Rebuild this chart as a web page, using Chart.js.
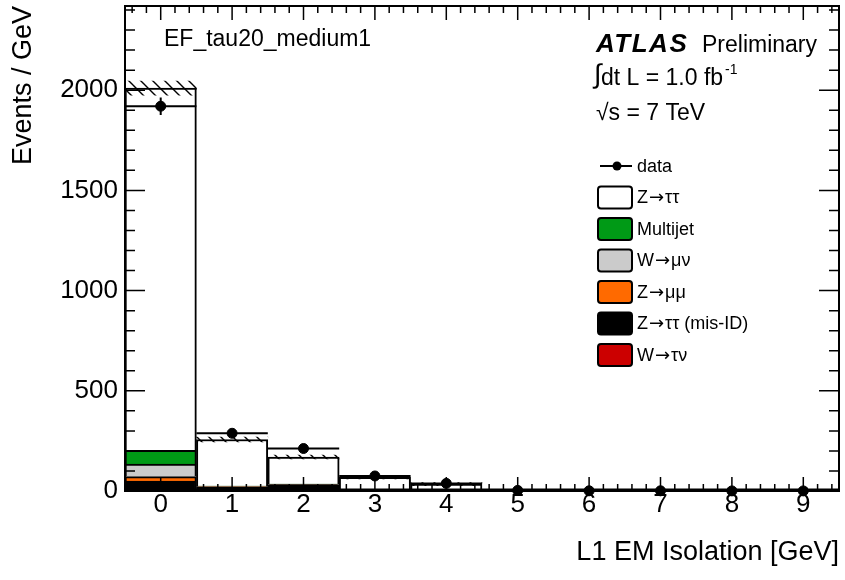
<!DOCTYPE html>
<html>
<head>
<meta charset="utf-8">
<script src="https://cdn.jsdelivr.net/npm/chart.js@4.4.0/dist/chart.umd.min.js"></script>
<style>
  html, body { margin: 0; padding: 0; background: #fff; }
</style>
</head>
<body>
<canvas id="chart" width="845" height="580"></canvas>
<script>
// bin centres (L1 EM isolation, GeV) and axis tick labels
const bins = [0, 1, 2, 3, 4, 5, 6, 7, 8, 9];
const xTicks = [0, 1, 2, 3, 4, 5, 6, 7, 8, 9];
const yTicks = [0, 500, 1000, 1500, 2000];

// data (events / GeV) and its statistical error
const dataCounts = [1920, 288, 212, 75, 38, 3, 1, 1, 0.5, 0.5];
const dataErr = [44, 17, 15, 9, 6, 2, 1, 1, 1, 1];

// stacked MC components, bottom to top
const wTauNu = [10, 3, 0, 0, 0, 0, 0, 0, 0, 0];
const zTauTauMisId = [40, 17, 32, 4, 2, 0.5, 0, 0, 0, 0];
const zMuMu = [22, 1, 0.5, 0, 0, 0, 0, 0, 0, 0];
const wMuNu = [62, 2, 1, 0.5, 0, 0, 0, 0, 0, 0];
const multijet = [69, 2, 1, 0.5, 0.5, 0, 0, 0, 0, 0];
const zTauTau = [1807, 232, 135, 63, 32, 2, 1, 0.5, 0.3, 0.3];
// MC uncertainty (half width of hatched band)
const mcErr = [35, 12, 10, 8, 8, 3, 2, 2, 2, 2];

const FONT = '"Liberation Sans", Arial, Helvetica, sans-serif';
const canvas = document.getElementById('chart');

function makeHatch() {
    const c = document.createElement('canvas');
    c.width = 12;
    c.height = 12;
    const g = c.getContext('2d');
    g.strokeStyle = '#000';
    g.lineWidth = 1.4;
    g.beginPath();
    g.moveTo(-1, -1); g.lineTo(13, 13);
    g.moveTo(-1, 11); g.lineTo(1, 13);
    g.moveTo(11, -1); g.lineTo(13, 1);
    g.stroke();
    return canvas.getContext('2d').createPattern(c, 'repeat');
}

function xy(vals) {
    return bins.map((b, i) => ({ x: b, y: vals[i] }));
}

const components = [
    ['W\u2192\u03c4\u03bd', wTauNu, '#cc0000'],
    ['Z\u2192\u03c4\u03c4 (mis-ID)', zTauTauMisId, '#000000'],
    ['Z\u2192\u03bc\u03bc', zMuMu, '#ff6a00'],
    ['W\u2192\u03bc\u03bd', wMuNu, '#cbcbcb'],
    ['Multijet', multijet, '#009a16'],
    ['Z\u2192\u03c4\u03c4', zTauTau, '#ffffff']
];

const mcTotal = bins.map((b, i) => components.reduce((s, c) => s + c[1][i], 0));

const barSets = components.map(([label, vals, color]) => ({
    type: 'bar',
    label: label,
    data: xy(vals),
    backgroundColor: color,
    borderColor: '#000',
    borderWidth: 2,
    xAxisID: 'x',
    yAxisID: 'y',
    grouped: false,
    categoryPercentage: 1,
    barPercentage: 1,
    order: 2
}));

const bandSet = {
    type: 'bar',
    label: 'MC uncertainty',
    data: bins.map((b, i) => ({ x: b, y: [mcTotal[i] - mcErr[i], mcTotal[i] + mcErr[i]] })),
    backgroundColor: makeHatch(),
    borderWidth: 0,
    xAxisID: 'x2',
    yAxisID: 'y',
    grouped: false,
    categoryPercentage: 1,
    barPercentage: 1,
    order: 1
};

const dataSet = {
    type: 'scatter',
    label: 'data',
    data: xy(dataCounts),
    pointRadius: 5,
    pointBackgroundColor: '#000',
    pointBorderColor: '#000',
    xAxisID: 'x',
    yAxisID: 'y',
    clip: false,
    order: 0
};

// legend label: the arrow comes from DejaVu Sans, the rest from Liberation Sans
function drawLabel(ctx, text, x, y) {
    const parts = text.split('\u2192');
    parts.forEach((part, i) => {
        ctx.font = '18px ' + FONT;
        ctx.fillText(part, x, y);
        x += ctx.measureText(part).width;
        if (i < parts.length - 1) {
            ctx.font = '18px "DejaVu Sans", sans-serif';
            ctx.fillText('\u2192', x + 1, y);
            x += ctx.measureText('\u2192').width + 2;
        }
    });
}

// error bars, frame, ticks, labels
const decorPlugin = {
    id: 'decor',
    afterDatasetsDraw(chart) {
        const ctx = chart.ctx;
        const xs = chart.scales.x, ys = chart.scales.y;
        ctx.save();
        ctx.strokeStyle = '#000';
        ctx.lineWidth = 2;
        bins.forEach((b, i) => {
            const px = xs.getPixelForValue(b);
            const py = ys.getPixelForValue(dataCounts[i]);
            ctx.beginPath();
            ctx.moveTo(xs.getPixelForValue(b - 0.5), py);
            ctx.lineTo(xs.getPixelForValue(b + 0.5), py);
            ctx.moveTo(px, ys.getPixelForValue(dataCounts[i] - dataErr[i]));
            ctx.lineTo(px, ys.getPixelForValue(dataCounts[i] + dataErr[i]));
            ctx.stroke();
        });
        ctx.restore();
    },
    afterDraw(chart) {
        const ctx = chart.ctx;
        const { left, right, top, bottom } = chart.chartArea;
        const xs = chart.scales.x, ys = chart.scales.y;
        ctx.save();
        ctx.strokeStyle = '#000';

        // ticks on all four sides, pointing inwards
        ctx.lineWidth = 1.5;
        ctx.beginPath();
        const yMinor = (yTicks[1] - yTicks[0]) / 5;
        for (let k = 0; k * yMinor <= ys.max; k++) {
            const py = ys.getPixelForValue(k * yMinor);
            const len = (k % 5 === 0) ? 20 : 10;
            ctx.moveTo(left, py); ctx.lineTo(left + len, py);
            ctx.moveTo(right, py); ctx.lineTo(right - len, py);
        }
        const xMinor = (xTicks[1] - xTicks[0]) / 5;
        for (let k = -2; xTicks[0] + k * xMinor < xs.max; k++) {
            const v = xTicks[0] + k * xMinor;
            if (v <= xs.min) continue;
            const px = xs.getPixelForValue(v);
            const len = (((k % 5) + 5) % 5 === 0) ? 14 : 7;
            ctx.moveTo(px, bottom); ctx.lineTo(px, bottom - len);
            ctx.moveTo(px, top); ctx.lineTo(px, top + len);
        }
        ctx.stroke();

        // frame, with the thick zero line of the empty bins
        ctx.lineWidth = 2;
        ctx.strokeRect(left, top, right - left, bottom - top);
        ctx.lineWidth = 3;
        ctx.beginPath();
        ctx.moveTo(left, bottom - 1);
        ctx.lineTo(right, bottom - 1);
        ctx.stroke();

        // texts
        ctx.fillStyle = '#000';
        ctx.textBaseline = 'alphabetic';
        ctx.textAlign = 'left';
        ctx.font = '23px ' + FONT;
        ctx.fillText('EF_tau20_medium1', 164, 46);

        ctx.font = 'italic bold 26px ' + FONT;
        ctx.letterSpacing = '1.5px';
        ctx.fillText('ATLAS', 596, 52);
        ctx.letterSpacing = '0px';
        ctx.font = '23px ' + FONT;
        ctx.fillText('Preliminary', 702, 52);

        ctx.font = '27px ' + FONT;
        ctx.fillText('\u222b', 594, 83);
        ctx.font = '23px ' + FONT;
        const lumi = 'dt L = 1.0 fb';
        ctx.fillText(lumi, 601, 85);
        const lw = ctx.measureText(lumi).width;
        ctx.font = '14px ' + FONT;
        ctx.fillText('-1', 601 + lw + 2, 74);

        ctx.font = '23px ' + FONT;
        ctx.fillText('\u221as = 7 TeV', 596, 120);

        // legend
        const lx = 598, rowH = 31.5;
        let ry = 166;
        ctx.lineWidth = 2;
        ctx.beginPath();
        ctx.moveTo(lx + 2, ry); ctx.lineTo(lx + 34, ry);
        ctx.stroke();
        ctx.beginPath();
        ctx.arc(lx + 19, ry, 4.5, 0, Math.PI * 2);
        ctx.fill();
        ctx.textBaseline = 'middle';
        drawLabel(ctx, dataSet.label, lx + 39, ry + 1);

        components.slice().reverse().forEach(([label, vals, color]) => {
            ry += rowH;
            ctx.beginPath();
            if (ctx.roundRect) ctx.roundRect(lx, ry - 11, 34, 22, 3);
            else ctx.rect(lx, ry - 11, 34, 22);
            ctx.fillStyle = color;
            ctx.fill();
            ctx.lineWidth = 2;
            ctx.stroke();
            ctx.fillStyle = '#000';
            drawLabel(ctx, label, lx + 39, ry + 1);
        });
        ctx.restore();
    }
};

new Chart(canvas, {
    type: 'bar',
    data: {
        datasets: [dataSet, bandSet, ...barSets]
    },
    options: {
        responsive: false,
        animation: false,
        devicePixelRatio: 1,
        layout: { padding: { left: 0, right: 4, top: 4, bottom: 0 } },
        plugins: {
            legend: { display: false },
            tooltip: { enabled: false }
        },
        scales: {
            x: {
                type: 'linear',
                min: -0.5,
                max: 9.5,
                offset: false,
                stacked: true,
                grid: { display: false, drawTicks: false },
                border: { display: false },
                afterBuildTicks: (s) => { s.ticks = xTicks.map(v => ({ value: v })); },
                afterFit: (s) => { s.height = 89; },
                ticks: {
                    autoSkip: false,
                    maxRotation: 0,
                    padding: 1,
                    color: '#000',
                    font: { family: FONT, size: 26, lineHeight: 1 },
                    callback: (v) => String(v)
                },
                title: {
                    display: true,
                    text: 'L1 EM Isolation [GeV]',
                    align: 'end',
                    color: '#000',
                    font: { family: FONT, size: 27, lineHeight: 1.2 },
                    padding: { top: 0, bottom: 11 }
                }
            },
            x2: {
                type: 'linear',
                min: -0.5,
                max: 9.5,
                offset: false,
                display: false
            },
            y: {
                type: 'linear',
                stacked: true,
                min: 0,
                max: 2420,
                grid: { display: false, drawTicks: false },
                border: { display: false },
                afterBuildTicks: (s) => { s.ticks = yTicks.map(v => ({ value: v })); },
                afterFit: (s) => { s.width = 125; s.paddingTop = 0; s.paddingBottom = 0; },
                ticks: {
                    padding: 7,
                    color: '#000',
                    font: { family: FONT, size: 26, lineHeight: 1 },
                    callback: (v) => String(v)
                },
                title: {
                    display: true,
                    text: 'Events / GeV',
                    align: 'end',
                    color: '#000',
                    font: { family: FONT, size: 27, lineHeight: 1.2 },
                    padding: { top: 7, bottom: 0 }
                }
            }
        }
    },
    plugins: [decorPlugin]
});
</script>
</body>
</html>
